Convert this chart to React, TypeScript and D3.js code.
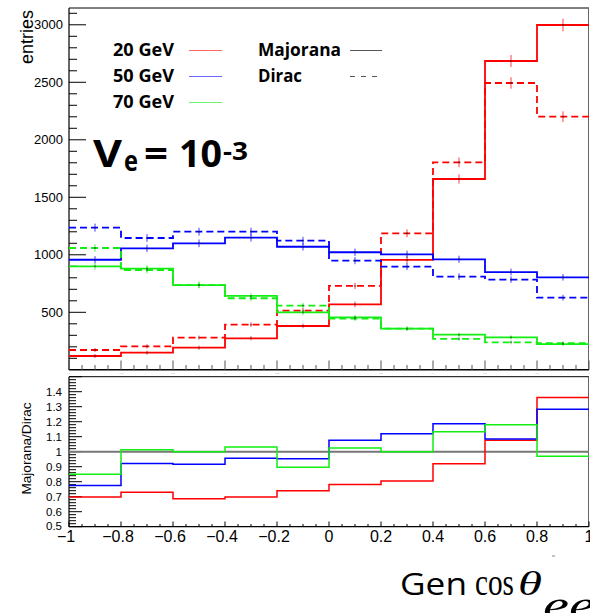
import React from 'react';
import * as d3 from 'd3';

// bin edges of Gen cos(theta_ee)
const binEdges = [-1, -0.8, -0.6, -0.4, -0.2, 0, 0.2, 0.4, 0.6, 0.8, 1];
const xTickLabels = ['\u22121', '\u22120.8', '\u22120.6', '\u22120.4', '\u22120.2', '0', '0.2', '0.4', '0.6', '0.8', '1'];

// entries per bin, Majorana (solid) vs Dirac (dashed)
const majorana20 = [120, 149, 192, 274, 381, 569, 955, 1659, 2685, 2998];
const dirac20 = [172, 204, 280, 393, 515, 729, 1187, 1804, 2494, 2201];
const majorana50 = [957, 1056, 1100, 1149, 1070, 1022, 1004, 961, 850, 804];
const dirac50 = [1236, 1146, 1201, 1201, 1123, 949, 897, 810, 784, 627];
const majorana70 = [900, 880, 737, 642, 500, 456, 358, 305, 282, 224];
const dirac70 = [1059, 868, 737, 622, 558, 445, 358, 269, 239, 231];

const massLabels = ['20 GeV', '50 GeV', '70 GeV'];
const massColors = ['#ff0000', '#0000ff', '#11ee11'];
const typeLabels = ['Majorana', 'Dirac'];

const entryTicks = [500, 1000, 1500, 2000, 2500, 3000];
const ratioTicks = [0.5, 0.6, 0.7, 0.8, 0.9, 1, 1.1, 1.2, 1.3, 1.4];

const W = 590;
const H = 613;
const FONT = '"Liberation Sans", Arial, sans-serif';
const BOLD = '"Open Sans", "Liberation Sans", sans-serif';
const SERIF = '"Liberation Serif", serif';

const series = [
  { maj: majorana20, dir: dirac20, color: massColors[0] },
  { maj: majorana50, dir: dirac50, color: massColors[1] },
  { maj: majorana70, dir: dirac70, color: massColors[2] },
];

const App: React.FC = () => {
  const x = d3.scaleLinear().domain([-1, 1]).range([69, 589]);
  const y = d3.scaleLinear().domain([0, 3146]).range([369.8, 8]);
  const yr = d3.scaleLinear().domain([0.5, 1.5]).range([526.7, 376.7]);

  const line = d3.line<[number, number]>();
  const stepPts = (vals: number[], ys: d3.ScaleLinear<number, number>) => {
    const pts: [number, number][] = [];
    vals.forEach((v, i) => {
      pts.push([x(binEdges[i]), ys(v)]);
      pts.push([x(binEdges[i + 1]), ys(v)]);
    });
    return pts;
  };

  const errBars = (vals: number[], color: string, key: string) =>
    vals.map((v, i) => {
      const cx = x((binEdges[i] + binEdges[i + 1]) / 2);
      const cy = y(v);
      const e = Math.max(y(0) - y(Math.sqrt(v)), 2);
      return (
        <g key={key + i}>
          <line x1={cx} x2={cx} y1={cy - e} y2={cy + e} stroke={color} strokeWidth={1} opacity={0.75} />
          <rect x={cx - 0.75} y={cy - 0.75} width={1.5} height={1.5} fill="#222" opacity={0.7} />
        </g>
      );
    });

  const minorX = d3.range(-1, 1.0001, 0.05);
  const majorX = binEdges;
  const minorY = d3.range(100, 3101, 100);
  const minorR = d3.range(0.5, 1.5001, 0.02);

  return (
    <svg width={W} height={H} style={{ position: 'absolute', left: 0, top: 0, background: '#fff' }}>
      {/* upper pad frame */}
      <line x1={69} x2={589} y1={8} y2={8} stroke="#000" strokeWidth={1} />
      <line x1={588.5} x2={588.5} y1={8} y2={370} stroke="#666" strokeWidth={1} />
      <line x1={69} x2={589} y1={369.8} y2={369.8} stroke="#000" strokeWidth={1.5} />
      <line x1={69} x2={69} y1={8} y2={370} stroke="#000" strokeWidth={1.2} />

      {/* upper y ticks */}
      {minorY.map(v => (
        <line key={'my' + v} x1={69} x2={v % 500 === 0 ? 86 : 77} y1={y(v)} y2={y(v)} stroke="#000" strokeWidth={1} />
      ))}
      {entryTicks.map(v => (
        <text key={'ty' + v} x={63} y={y(v) + 4.6} fontFamily={FONT} fontSize={13} textAnchor="end" fill="#000">
          {v}
        </text>
      ))}
      <text transform="translate(33,10) rotate(-90)" fontFamily={FONT} fontSize={18} textAnchor="end" fill="#000">
        entries
      </text>

      {/* upper x ticks */}
      {minorX.map((v, i) => (
        <line key={'mx' + i} x1={x(v)} x2={x(v)} y1={369.8} y2={i % 4 === 0 ? 360.5 : 365} stroke="#555" strokeWidth={1} />
      ))}
      {majorX.map((v, i) => (
        <text key={'tiny' + i} x={x(v)} y={374} fontFamily={FONT} fontSize={2.5} textAnchor="middle" fill="#aaa">
          {xTickLabels[i]}
        </text>
      ))}

      {/* histograms */}
      {series.map((s, k) => (
        <g key={'h' + k}>
          <path d={line(stepPts(s.dir, y)) || ''} fill="none" stroke={s.color} strokeWidth={1.8} strokeDasharray="7,4" />
          <path d={line(stepPts(s.maj, y)) || ''} fill="none" stroke={s.color} strokeWidth={1.8} />
          {errBars(s.dir, s.color, 'ed' + k)}
          {errBars(s.maj, s.color, 'em' + k)}
        </g>
      ))}

      {/* legend */}
      {massLabels.map((m, i) => (
        <g key={'lg' + i}>
          <text x={113} y={56 + i * 26} fontFamily={BOLD} fontWeight={700} fontSize={18} textLength={61} lengthAdjust="spacingAndGlyphs" fill="#000">
            {m}
          </text>
          <line x1={189} x2={222} y1={50.5 + i * 26} y2={50.5 + i * 26} stroke={massColors[i]} strokeWidth={1.2} opacity={0.6} />
        </g>
      ))}
      {typeLabels.map((t, i) => (
        <g key={'lt' + i}>
          <text x={258} y={56 + i * 26} fontFamily={BOLD} fontWeight={700} fontSize={18} textLength={i === 0 ? 83 : 44} lengthAdjust="spacingAndGlyphs" fill="#000">
            {t}
          </text>
          <line x1={350} x2={382} y1={50.5 + i * 26} y2={50.5 + i * 26} stroke="#555" strokeWidth={1} strokeDasharray={i === 0 ? undefined : '5,6'} />
        </g>
      ))}

      {/* V_e = 10^-3 */}
      <g fontFamily={BOLD} fontWeight={700} fill="#000">
        <text x={93} y={167} fontSize={38} textLength={29} lengthAdjust="spacingAndGlyphs">V</text>
        <text x={124} y={171} fontSize={29} textLength={14} lengthAdjust="spacingAndGlyphs">e</text>
        <text x={144} y={167} fontSize={38} textLength={24} lengthAdjust="spacingAndGlyphs">=</text>
        <text x={179} y={167} fontSize={38} textLength={43} lengthAdjust="spacingAndGlyphs">10</text>
        <text x={223} y={160} fontSize={25} textLength={25} lengthAdjust="spacingAndGlyphs">-3</text>
      </g>

      {/* lower pad frame */}
      <line x1={69} x2={589} y1={376.7} y2={376.7} stroke="#000" strokeWidth={1} />
      <line x1={588.5} x2={588.5} y1={376.7} y2={527} stroke="#666" strokeWidth={1} />
      <line x1={69} x2={589} y1={526.7} y2={526.7} stroke="#000" strokeWidth={1.2} />
      <line x1={69} x2={69} y1={376.7} y2={527} stroke="#000" strokeWidth={1.2} />

      {minorR.map((v, i) => (
        <line key={'mr' + i} x1={69} x2={i % 5 === 0 ? 82 : 76} y1={yr(v)} y2={yr(v)} stroke="#000" strokeWidth={1} />
      ))}
      {ratioTicks.map(v => (
        <text key={'tr' + v} x={62} y={yr(v) + (v === 0.5 ? 2.8 : 4)} fontFamily={FONT} fontSize={11.5} textAnchor="end" fill="#000">
          {v}
        </text>
      ))}
      <text transform="translate(31,448.5) rotate(-90)" fontFamily={FONT} fontSize={13.6} textAnchor="middle" fill="#000">
        Majorana/Dirac
      </text>

      {minorX.map((v, i) => (
        <line key={'lx' + i} x1={x(v)} x2={x(v)} y1={526.7} y2={i % 4 === 0 ? 521.5 : 524} stroke="#000" strokeWidth={1} />
      ))}
      {majorX.map((v, i) => (
        <text key={'lxl' + i} x={x(v) - (v < 0 ? 3 : 0)} y={542} fontFamily={FONT} fontSize={16} textAnchor="middle" fill="#000">
          {xTickLabels[i]}
        </text>
      ))}

      <line x1={69} x2={589} y1={yr(1)} y2={yr(1)} stroke="#777" strokeWidth={2} />
      {series.map((s, k) => (
        <path
          key={'r' + k}
          d={line(stepPts(s.maj.map((v, i) => v / s.dir[i]), yr)) || ''}
          fill="none"
          stroke={s.color}
          strokeWidth={1.5}
        />
      ))}

      {/* axis title */}
      <line x1={552} x2={555} y1={556} y2={556} stroke="#888" strokeWidth={1} />
      <text x={400} y={595} fontFamily={'"Open Sans", sans-serif'} fontSize={31} textLength={67} lengthAdjust="spacingAndGlyphs" fill="#000">
        Gen
      </text>
      <text x={475} y={595} fontFamily={SERIF} fontSize={37} textLength={39} lengthAdjust="spacingAndGlyphs" fill="#000">
        cos
      </text>
      <text x={518} y={595} fontFamily={SERIF} fontSize={34} fontStyle="italic" textLength={24} lengthAdjust="spacingAndGlyphs" fill="#000">
        θ
      </text>
      <text x={543} y={619} fontFamily={SERIF} fontSize={40} fontStyle="italic" textLength={52} lengthAdjust="spacingAndGlyphs" fill="#000">
        ee
      </text>
    </svg>
  );
};

export default App;
